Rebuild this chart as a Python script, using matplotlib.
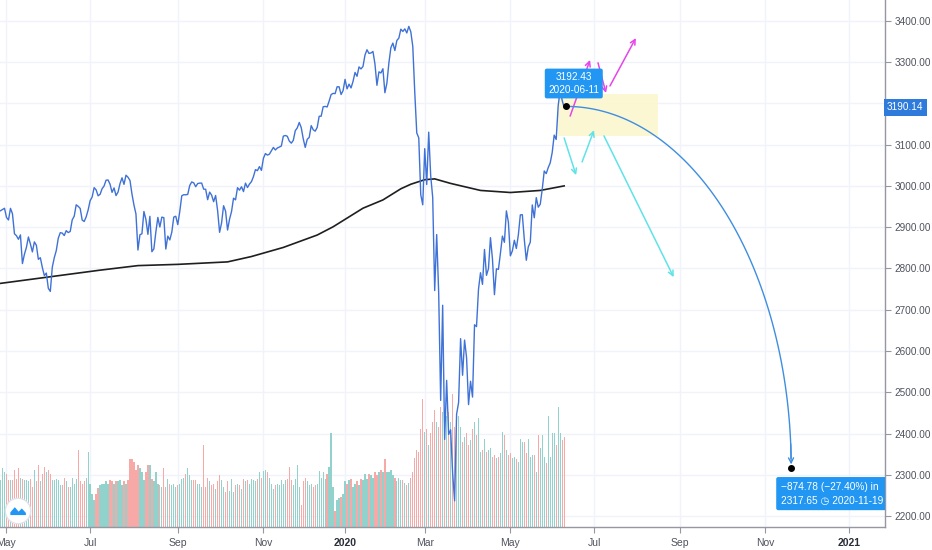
import numpy as np
import pandas as pd
import matplotlib
matplotlib.use("Agg")
import matplotlib.pyplot as plt
import matplotlib.transforms as mtransforms
from matplotlib.patches import Rectangle, Circle, Polygon

plt.rcParams['font.family'] = ['Liberation Sans', 'DejaVu Sans']

# trading calendar (NYSE holidays), bars are placed by trading day like TradingView
holidays = ['2019-05-27', '2019-07-04', '2019-09-02', '2019-11-28', '2019-12-25',
            '2020-01-01', '2020-01-20', '2020-02-17', '2020-04-10', '2020-05-25',
            '2020-07-03', '2020-09-07', '2020-11-26', '2020-12-25', '2021-01-01',
            '2021-01-18']
days = pd.date_range('2019-04-26', '2021-02-26',
                     freq=pd.offsets.CustomBusinessDay(holidays=holidays))
pos = {d: i for i, d in enumerate(days)}


def bar_of(date):
    return pos[pd.Timestamp(date)]


# S&P 500 daily closes, 2019-04-26 .. 2020-06-10
closes = [
    # Apr 2019
    2939.9, 2943.0, 2945.8,
    # May
    2923.7, 2917.5, 2945.6, 2932.5, 2884.1, 2879.4, 2870.7, 2881.4, 2811.9, 2834.4,
    2851.0, 2876.3, 2859.5, 2840.2, 2864.4, 2856.3, 2822.2, 2826.1, 2802.4, 2783.0,
    2788.9, 2752.1,
    # Jun
    2744.5, 2803.3, 2826.2, 2843.5, 2873.3, 2886.7, 2885.7, 2879.8, 2891.6, 2887.0,
    2889.7, 2917.8, 2926.5, 2954.2, 2950.5, 2945.4, 2917.4, 2913.8, 2924.9, 2941.8,
    # Jul
    2964.3, 2973.0, 2995.8, 2990.4, 2976.0, 2979.6, 2993.1, 2999.9, 3013.8, 3014.3,
    3004.0, 2984.4, 2995.1, 2976.6, 2985.0, 3005.5, 3019.6, 3003.7, 3025.9, 3021.0,
    3013.2, 2980.4,
    # Aug
    2953.6, 2932.1, 2844.7, 2881.8, 2884.0, 2938.1, 2918.7, 2882.7, 2926.3, 2840.6,
    2847.6, 2888.7, 2923.7, 2900.5, 2924.4, 2923.0, 2847.1, 2878.4, 2869.2, 2887.9,
    2924.6, 2926.5,
    # Sep
    2906.3, 2937.8, 2976.0, 2978.7, 2978.4, 2979.4, 3000.9, 3009.6, 3007.4, 2998.0,
    3005.7, 3006.7, 3006.8, 2992.1, 2991.8, 2966.6, 2984.9, 2977.6, 2961.8, 2976.7,
    # Oct
    2940.3, 2887.6, 2910.6, 2952.0, 2938.8, 2893.1, 2919.4, 2938.1, 2970.3, 2966.2,
    2995.7, 2989.7, 2998.0, 2986.2, 3006.7, 2996.0, 3004.5, 3010.3, 3022.6, 3039.4,
    3036.9, 3046.8, 3037.6,
    # Nov
    3066.9, 3078.3, 3074.6, 3076.8, 3085.2, 3093.1, 3087.0, 3091.8, 3094.0, 3096.6,
    3120.5, 3122.0, 3120.2, 3108.5, 3103.5, 3110.3, 3133.6, 3140.5, 3153.6, 3141.0,
    # Dec
    3113.9, 3093.2, 3112.8, 3117.4, 3145.9, 3136.0, 3132.5, 3141.6, 3168.6, 3168.8,
    3191.5, 3192.5, 3191.1, 3205.4, 3221.2, 3224.0, 3223.4, 3239.9, 3240.0, 3221.3,
    3230.8,
    # Jan 2020
    3257.9, 3234.9, 3246.3, 3237.2, 3253.1, 3274.7, 3265.4, 3288.1, 3283.2, 3289.3,
    3316.8, 3329.6, 3320.8, 3321.8, 3325.5, 3295.5, 3243.6, 3276.2, 3273.4, 3283.7,
    3225.5,
    # Feb
    3248.9, 3297.6, 3334.7, 3345.8, 3327.7, 3352.1, 3357.8, 3379.5, 3373.9, 3380.2,
    3370.3, 3386.2, 3373.2, 3337.8, 3225.9, 3128.2, 3116.4, 2978.8, 2954.2,
    # Mar
    3090.2, 3003.4, 3130.1, 3023.9, 2972.4, 2746.6, 2882.2, 2741.4, 2480.6, 2711.0,
    2386.1, 2529.2, 2398.1, 2409.4, 2304.9, 2237.4, 2447.3, 2475.6, 2630.1, 2541.5,
    2626.7, 2584.6,
    # Apr
    2470.5, 2526.9, 2488.7, 2663.7, 2659.4, 2750.0, 2789.8, 2761.6, 2846.1, 2783.4,
    2799.6, 2874.6, 2823.2, 2736.6, 2799.3, 2797.8, 2836.7, 2878.5, 2863.4, 2939.5,
    2912.4,
    # May
    2830.7, 2842.7, 2868.4, 2848.4, 2881.2, 2929.8, 2930.3, 2870.1, 2820.0, 2852.5,
    2863.7, 2953.9, 2922.9, 2971.6, 2948.5, 2955.5, 2991.8, 3036.1, 3029.7, 3044.3,
    # Jun
    3055.7, 3080.8, 3122.9, 3112.4, 3193.9, 3232.4, 3207.2, 3190.14,
]

# daily volume, billions of shares
volume = [
    3.6, 4.5, 4.2, 4.1, 3.6, 3.6, 3.6, 4.4, 3.7, 4.5,
    3.8, 3.7, 3.6, 3.6, 3.5, 3.7, 3.1, 4.4, 3.5, 4.8,
    3.5, 4.1, 4.6, 4.2, 4.4, 4.1, 3.6, 3.6, 3.7, 3.6,
    3.2, 3.2, 3.8, 3.5, 3.1, 3.1, 3.8, 3.3, 3.7, 5.9,
    3.5, 3.3, 3.5, 3.8, 5.8, 3.3, 2.5, 2.1, 2.5, 3.0,
    3.2, 3.3, 3.3, 3.5, 3.3, 3.6, 3.5, 3.3, 3.5, 3.5,
    3.6, 3.2, 3.5, 3.3, 3.6, 5.2, 5.2, 5.0, 4.4, 4.8,
    4.5, 4.2, 3.6, 4.2, 4.8, 4.8, 3.7, 3.5, 4.2, 3.3,
    3.2, 3.1, 4.5, 3.1, 3.7, 3.3, 3.2, 3.3, 3.1, 3.2,
    3.3, 3.7, 3.8, 4.1, 4.5, 4.0, 3.6, 3.6, 3.6, 3.3,
    3.3, 3.1, 6.3, 3.1, 3.8, 3.5, 3.2, 3.3, 2.9, 3.5,
    4.0, 3.6, 3.1, 2.7, 3.5, 2.8, 3.7, 2.7, 3.2, 3.3,
    3.2, 2.9, 3.7, 3.5, 3.6, 3.3, 3.7, 3.6, 3.5, 3.7,
    4.2, 3.8, 4.3, 4.4, 4.2, 3.8, 3.3, 2.9, 3.2, 3.3,
    3.2, 3.6, 3.3, 3.6, 3.7, 4.6, 3.6, 3.2, 3.7, 4.8,
    3.1, 1.7, 3.5, 3.8, 3.5, 3.2, 3.3, 3.1, 3.2, 3.3,
    4.3, 3.8, 4.2, 3.7, 4.1, 4.6, 7.2, 3.1, 1.2, 2.1,
    2.2, 2.3, 2.5, 3.5, 3.3, 3.6, 3.7, 3.1, 3.3, 3.5,
    3.2, 3.7, 3.6, 4.1, 3.7, 4.1, 4.0, 3.8, 4.2, 4.0,
    4.2, 4.4, 4.2, 5.2, 4.2, 4.2, 4.4, 4.0, 3.8, 3.5,
    3.8, 3.6, 3.6, 3.4, 3.2, 3.4, 3.8, 4.2, 5.3, 5.9,
    5.8, 7.5, 9.8, 7.3, 7.5, 6.3, 7.2, 8.1, 9.0, 8.1,
    7.7, 9.2, 8.8, 8.5, 8.5, 8.8, 8.1, 10.2, 7.7, 8.1,
    8.5, 7.7, 6.5, 6.9, 7.2, 6.3, 6.7, 7.5, 8.1, 7.1,
    8.4, 5.8, 5.9, 6.8, 5.8, 5.9, 6.1, 5.4, 5.5, 5.3,
    5.4, 5.7, 7.3, 7.1, 5.9, 5.5, 5.7, 5.3, 5.4, 5.2,
    5.0, 6.8, 6.5, 6.5, 5.7, 6.8, 5.4, 5.5, 5.5, 4.2,
    7.1, 6.1, 7.1, 5.4, 4.9, 8.5, 5.4, 7.2, 7.2, 6.3,
    9.2, 7.2, 6.7, 6.9,
]

# 200-day moving average
sma_dates = ['2019-04-26', '2019-06-03', '2019-07-09', '2019-08-05', '2019-09-03',
             '2019-10-08', '2019-10-24', '2019-11-15', '2019-12-11', '2019-12-23',
             '2020-01-15', '2020-01-30', '2020-02-12', '2020-02-20', '2020-03-02',
             '2020-03-09', '2020-03-19', '2020-04-09', '2020-05-01', '2020-05-22',
             '2020-06-10']
sma_values = [2764, 2780, 2796, 2807, 2810, 2816, 2829, 2851, 2881, 2901, 2946, 2966,
              2993, 3004, 3015, 3017, 3006, 2989, 2984, 2989, 3000]

# drawings
start_date, start_price = '2020-06-11', 3192.43
end_date, end_price = '2020-11-19', 2317.65
zone_dates = ['2020-06-05', '2020-08-17']
zone_prices = [3121, 3222]
magenta_arrows = [(('2020-06-15', 3169), ('2020-06-29', 3305)),
                  (('2020-07-06', 3298), ('2020-07-10', 3225)),
                  (('2020-07-14', 3242), ('2020-07-31', 3358))]
cyan_arrows = [(('2020-06-10', 3116), ('2020-06-18', 3026)),
               (('2020-06-23', 3058), ('2020-07-01', 3135)),
               (('2020-07-09', 3121), ('2020-08-27', 2779))]

price_ticks = list(range(2200, 3401, 100))
label_months = ['2019-05', '2019-07', '2019-09', '2019-11', '2020-01', '2020-03',
                '2020-05', '2020-07', '2020-09', '2020-11', '2021-01']

grid_c = '#f0f3fa'
up_c, down_c = '#92d2cc', '#f7a9a7'

fig = plt.figure(figsize=(9.32, 5.5), dpi=100)
fig.patch.set_facecolor('white')
rect = [0, 1 - 527 / 550, 885 / 932, 527 / 550]
axv = fig.add_axes(rect)
ax = fig.add_axes(rect, sharex=axv)
ax.patch.set_visible(False)

n = len(closes)
xs = np.arange(n)
cl = np.array(closes)
colors = [up_c] + [up_c if cl[i] >= cl[i - 1] else down_c for i in range(1, n)]

# volume pane
axv.bar(xs, volume, width=0.65, color=colors, linewidth=0, zorder=2)
axv.set_ylim(0, 40.5)
axv.set_yticks([])
for s in axv.spines.values():
    s.set_visible(False)
axv.grid(axis='x', color=grid_c, lw=1, zorder=0)
axv.tick_params(axis='x', bottom=False, labelbottom=False)
blend = mtransforms.blended_transform_factory(axv.transAxes, ax.transData)
for p in price_ticks:
    axv.plot([0, 1], [p, p], transform=blend, color=grid_c, lw=1, zorder=0)

# price
ax.plot(xs, cl, color='#3f72d6', lw=1, zorder=4)
ax.plot([bar_of(d) for d in sma_dates], sma_values, color='#1f1f1f', lw=1.2, zorder=3)

ax.add_patch(Rectangle((bar_of(zone_dates[0]), zone_prices[0]),
                       bar_of(zone_dates[1]) - bar_of(zone_dates[0]),
                       zone_prices[1] - zone_prices[0],
                       facecolor='#fcf6cc', edgecolor='none', alpha=0.85, zorder=2))

for arrows, col in [(magenta_arrows, '#e645e8'), (cyan_arrows, '#5fe3e8')]:
    for (d0, p0), (d1, p1) in arrows:
        ax.annotate('', xy=(bar_of(d1), p1), xytext=(bar_of(d0), p0),
                    arrowprops=dict(arrowstyle='->', color=col, lw=1.1,
                                    shrinkA=0, shrinkB=0, mutation_scale=9),
                    zorder=5)

# projected arc
i0, i1 = bar_of(start_date), bar_of(end_date)
t = np.linspace(0, np.pi / 2, 120)
arc_x = i0 + (i1 - i0) * np.sin(t)
arc_y = end_price + (start_price - end_price) * np.cos(t)
arc_c = '#3e8ee0'
ax.plot(arc_x[:-2], arc_y[:-2], color=arc_c, lw=1, zorder=5)
ax.annotate('', xy=(arc_x[-1], arc_y[-1] + 8), xytext=(arc_x[-6], arc_y[-6]),
            arrowprops=dict(arrowstyle='->', color=arc_c, lw=1,
                            shrinkA=0, shrinkB=0, mutation_scale=9), zorder=5)
ax.plot([i0, i1], [start_price, end_price], 'o', color='black', ms=4, zorder=7)

ax.annotate('%.2f\n%s' % (start_price, start_date), xy=(i0, start_price),
            xytext=(5.5, 16.5), textcoords='offset points', ha='center', va='center',
            fontsize=7.2, color='white', linespacing=1.35, zorder=8,
            bbox=dict(boxstyle='round,pad=0.35,rounding_size=0.2', fc='#2196f3', ec='none'))

change = end_price - start_price
pct = change / start_price * 100
ax.annotate('%s (%s%%) in\n%.2f \u25F7 %s' % (('%.2f' % change).replace('-', '\u2212'),
                                              ('%.2f' % pct).replace('-', '\u2212'),
                                              end_price, end_date),
            xy=(i1, end_price), xytext=(-7.5, -10), textcoords='offset points',
            ha='left', va='top', fontsize=7.3, color='white', linespacing=1.5,
            zorder=8, clip_on=True,
            bbox=dict(boxstyle='round,pad=0.45,rounding_size=0.2', fc='#2196f3', ec='none'))

# axes formatting
ax.set_xlim(-0.26, 444.1)
ax.set_ylim(2174.1, 3450.1)
ax.yaxis.tick_right()
ax.set_yticks(price_ticks)
# the last-price tag covers the 3200 label
ax.set_yticklabels(['' if p == 3200 else '%.2f' % p for p in price_ticks])
ax.tick_params(axis='y', direction='out', length=4, color='#9598a1', labelsize=7.2,
               labelcolor='#50535e', pad=3)

tick_pos, tick_lab = [], []
for m in label_months:
    first = [d for d in days if d.strftime('%Y-%m') == m][0]
    tick_pos.append(pos[first])
    tick_lab.append(first.strftime('%Y') if first.month == 1 else first.strftime('%b'))
ax.set_xticks(tick_pos)
ax.set_xticklabels(tick_lab)
ax.tick_params(axis='x', direction='out', length=4, color='#9598a1', labelsize=7.5,
               labelcolor='#50535e', pad=4)
for lab in ax.get_xticklabels():
    if lab.get_text().isdigit():
        lab.set_fontweight('bold')
        lab.set_color('#2a2e39')

for side in ['left', 'top']:
    ax.spines[side].set_visible(False)
for side in ['right', 'bottom']:
    ax.spines[side].set_color('#9598a1')
    ax.spines[side].set_linewidth(1)

ax.annotate('%.2f' % cl[-1], xy=(1, cl[-1]), xycoords=('axes fraction', 'data'),
            xytext=(1.5, 0), textcoords='offset points', ha='left', va='center',
            fontsize=7.2, color='white', annotation_clip=False, zorder=9,
            bbox=dict(boxstyle='square,pad=0.35', fc='#2e7bdc', ec='none'))

# little logo at bottom left
lax = fig.add_axes([4 / 932, (550 - 525) / 550, 28 / 932, 28 / 550])
lax.set_xlim(-1.1, 1.1)
lax.set_ylim(-1.1, 1.1)
lax.set_aspect('equal')
lax.axis('off')
lax.add_patch(Circle((0, 0), 1, fc='white', ec='#e0e3eb', lw=1))
lax.add_patch(Polygon([(-0.6, -0.1), (-0.25, 0.3), (0.05, -0.05), (0.3, 0.2),
                       (0.62, -0.15), (0.62, -0.32), (-0.6, -0.32)],
                      closed=True, fc='#2196f3', ec='none'))

fig.savefig('out.png', dpi=100, facecolor='white')
